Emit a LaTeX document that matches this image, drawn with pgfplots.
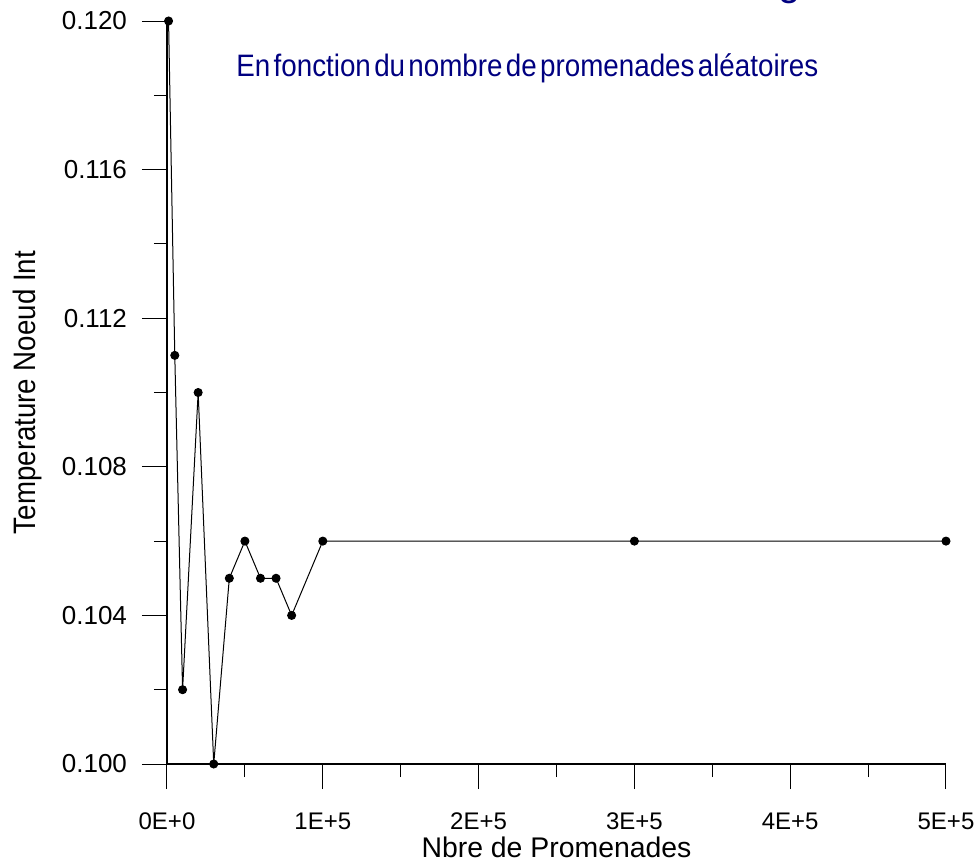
\documentclass[border=0pt]{standalone}
\usepackage{graphicx}
\usepackage{fontspec}
\setmainfont{Liberation Sans}
\usepackage{pgfplots}
\pgfplotsset{compat=1.18}
\definecolor{navyt}{RGB}{0,0,128}
\begin{document}
\begin{tikzpicture}
\begin{axis}[
  scale only axis, width=389.5pt, height=371.5pt,
  at={(0,0)}, anchor=south west,
  xmin=0, xmax=500000, ymin=0.100, ymax=0.120,
  axis lines=left, axis line style={-, line width=0.6pt},
  tick align=outside,
  major tick length=12.5pt, minor tick length=6.5pt,
  xtick={0,100000,200000,300000,400000,500000},
  xticklabels={0E+0,1E+5,2E+5,3E+5,4E+5,5E+5},
  minor xtick={50000,150000,250000,350000,450000},
  ytick={0.100,0.104,0.108,0.112,0.116,0.120},
  yticklabels={0.100,0.104,0.108,0.112,0.116,0.120},
  minor ytick={0.102,0.106,0.110,0.114,0.118},
  scaled x ticks=false, scaled y ticks=false,
  xticklabel style={font=\fontsize{12}{14}\selectfont, yshift=-8.5pt},
  yticklabel style={font=\fontsize{13}{15}\selectfont, xshift=-4pt},
  xlabel={Nbre de Promenades},
  ylabel={\resizebox{141.5pt}{\height}{Temperature Noeud Int}},
  xlabel style={font=\fontsize{14.2}{17}\selectfont, at={(axis description cs:0.5,-0.1252)}, anchor=base},
  ylabel style={font=\fontsize{15.5}{18}\selectfont, at={(axis description cs:-0.1682,0.5)}, anchor=base},
  clip=false,
  tick style={black, line width=0.5pt},
]
\addplot[black, line width=0.5pt, mark=*, mark size=2pt] table {
x y
1000 0.120
5000 0.111
10000 0.102
20000 0.110
30000 0.100
40000 0.105
50000 0.106
60000 0.105
70000 0.105
80000 0.104
100000 0.106
300000 0.106
500000 0.106
};
\end{axis}
\node[anchor=base west, text=navyt, inner sep=0pt] at (34.5pt,343.5pt)
  {\resizebox{291pt}{\height}{\fontsize{15.5}{18}\selectfont\spaceskip=0.12em\relax En fonction du nombre de promenades aléatoires}};
\node[anchor=base, text=navyt, inner sep=0pt] at (311.5pt,384pt)
  {\fontsize{20}{24}\selectfont g};
\pgfresetboundingbox
\path[use as bounding box] (-83.5pt,-50pt) rectangle (406.5pt,382pt);
\end{tikzpicture}
\end{document}
